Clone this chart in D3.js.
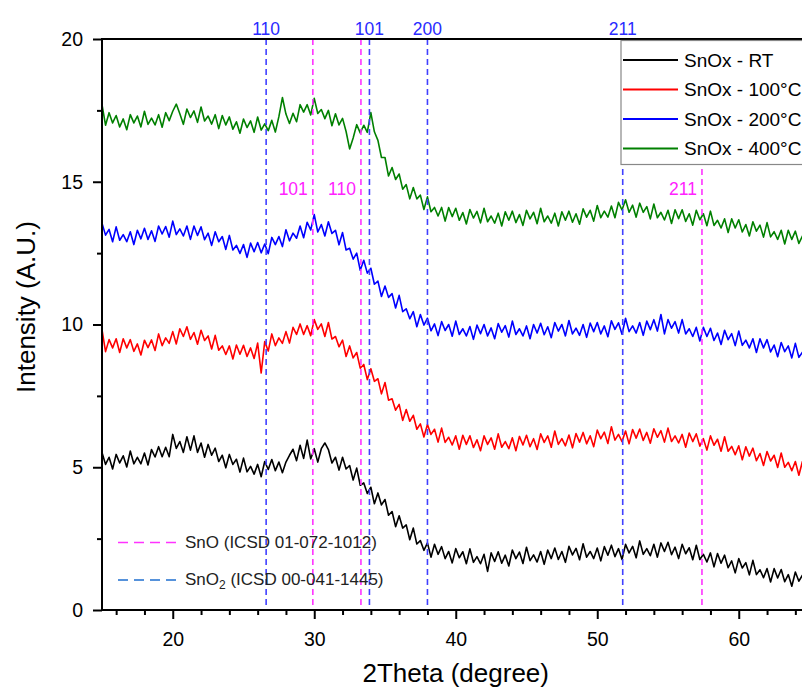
<!DOCTYPE html>
<html>
<head>
<meta charset="utf-8">
<script src="https://cdn.jsdelivr.net/npm/d3@7"></script>
<style>
  html, body { margin: 0; padding: 0; background: #fff; }
  svg { display: block; font-family: "Liberation Sans", Arial, sans-serif; }
</style>
</head>
<body>
<svg id="chart" width="802" height="689"></svg>
<script>
'use strict';

// scan grid (2theta, degrees)
var thetaStart = 15;
var thetaStep = 0.25;

// intensities, one value per grid step (15 ... 65)
var intensityRT = [
  5.52, 5.10, 5.35, 4.94, 5.45, 5.15, 5.40, 5.01,
  5.57, 5.12, 5.35, 5.12, 5.50, 5.08, 5.62, 5.36,
  5.72, 5.37, 5.70, 5.37, 6.15, 5.66, 5.90, 5.52,
  6.07, 5.60, 6.10, 5.52, 5.85, 5.35, 5.80, 5.42,
  5.67, 5.20, 5.42, 4.98, 5.45, 5.10, 5.28, 4.83,
  5.32, 4.84, 5.03, 4.76, 5.10, 4.67, 5.20, 4.92,
  5.27, 4.88, 5.18, 4.81, 5.18, 5.42, 5.63, 5.23,
  5.77, 5.31, 5.95, 5.29, 5.65, 5.18, 5.65, 5.85,
  5.62, 5.15, 5.35, 4.90, 5.35, 4.94, 5.06, 4.55,
  4.97, 4.37, 4.45, 4.08, 4.30, 3.72, 4.10, 3.68,
  3.87, 3.32, 3.45, 2.92, 3.30, 2.87, 2.98, 2.46,
  2.87, 2.31, 2.43, 2.09, 2.35, 1.85, 2.30, 1.95,
  2.22, 1.80, 2.05, 1.65, 2.15, 1.83, 2.04, 1.62,
  2.14, 1.67, 1.87, 1.62, 1.95, 1.35, 2.00, 1.70,
  2.04, 1.64, 1.92, 1.54, 2.10, 1.80, 2.03, 1.63,
  2.20, 1.73, 1.93, 1.68, 2.05, 1.60, 2.10, 1.80,
  2.17, 1.77, 2.05, 1.67, 2.23, 1.93, 2.16, 1.76,
  2.32, 1.85, 2.05, 1.80, 2.17, 1.72, 2.22, 1.92,
  2.27, 1.87, 2.15, 1.77, 2.30, 2.00, 2.23, 1.83,
  2.42, 1.95, 2.15, 1.90, 2.30, 1.85, 2.35, 2.05,
  2.37, 1.94, 2.20, 1.80, 2.30, 1.97, 2.18, 1.76,
  2.27, 1.77, 1.95, 1.68, 2.00, 1.51, 1.98, 1.64,
  1.92, 1.48, 1.72, 1.30, 1.80, 1.47, 1.66, 1.23,
  1.74, 1.24, 1.41, 1.13, 1.45, 0.98, 1.45, 1.12,
  1.42, 0.99, 1.24, 0.83, 1.33, 1.01, 1.22, 0.80,
  1.15
];

var intensity100 = [
  9.82, 9.05, 9.47, 9.18, 9.50, 9.02, 9.50, 9.18,
  9.47, 9.06, 9.32, 8.93, 9.45, 9.19, 9.46, 9.09,
  9.67, 9.26, 9.53, 9.34, 9.75, 9.32, 9.85, 9.58,
  9.92, 9.48, 9.72, 9.31, 9.80, 9.44, 9.60, 9.14,
  9.62, 9.10, 9.25, 8.95, 9.25, 8.79, 9.28, 8.96,
  9.27, 8.88, 9.18, 8.81, 9.35, 8.30, 9.40, 9.07,
  9.67, 9.26, 9.53, 9.34, 9.75, 9.35, 9.90, 9.65,
  10.02, 9.65, 9.96, 9.61, 10.17, 9.83, 10.02, 9.58,
  10.07, 9.49, 9.58, 9.22, 9.45, 8.88, 9.25, 8.83,
  9.02, 8.47, 8.60, 8.07, 8.45, 8.01, 8.10, 7.57,
  7.97, 7.35, 7.40, 7.00, 7.20, 6.64, 7.02, 6.61,
  6.82, 6.33, 6.52, 6.06, 6.50, 6.15, 6.33, 5.88,
  6.37, 5.87, 6.05, 5.78, 6.10, 5.63, 6.12, 5.80,
  6.10, 5.69, 5.96, 5.58, 6.10, 5.80, 6.03, 5.63,
  6.17, 5.70, 5.90, 5.65, 6.03, 5.58, 6.08, 5.78,
  6.12, 5.72, 6.00, 5.62, 6.17, 5.87, 6.10, 5.70,
  6.27, 5.80, 6.00, 5.75, 6.13, 5.68, 6.18, 5.88,
  6.22, 5.82, 6.10, 5.72, 6.30, 6.00, 6.23, 5.83,
  6.42, 5.95, 6.15, 5.90, 6.27, 5.82, 6.32, 6.02,
  6.34, 5.94, 6.22, 5.84, 6.35, 6.05, 6.28, 5.88,
  6.37, 5.90, 6.10, 5.85, 6.15, 5.70, 6.20, 5.90,
  6.17, 5.74, 6.00, 5.60, 6.10, 5.77, 5.98, 5.56,
  6.07, 5.56, 5.73, 5.44, 5.75, 5.26, 5.72, 5.39,
  5.67, 5.23, 5.48, 5.06, 5.55, 5.22, 5.42, 4.99,
  5.50, 5.00, 5.17, 4.88, 5.20, 4.72, 5.20, 4.88,
  5.15
];

var intensity200 = [
  13.55, 13.13, 13.33, 12.90, 13.42, 12.95, 13.15, 12.90,
  13.25, 12.80, 13.30, 13.00, 13.37, 12.98, 13.28, 12.91,
  13.45, 13.17, 13.43, 13.06, 13.62, 13.15, 13.35, 13.10,
  13.45, 12.98, 13.45, 13.12, 13.42, 12.97, 13.20, 12.77,
  13.25, 12.90, 13.08, 12.63, 13.12, 12.61, 12.77, 12.49,
  12.80, 12.35, 12.85, 12.55, 12.87, 12.51, 12.82, 12.48,
  13.05, 12.80, 13.08, 12.73, 13.32, 12.93, 13.20, 13.02,
  13.45, 13.04, 13.58, 13.31, 13.85, 13.24, 13.50, 13.10,
  13.60, 13.19, 13.30, 12.79, 13.22, 12.61, 12.67, 12.29,
  12.50, 11.90, 12.25, 11.80, 11.97, 11.41, 11.52, 10.98,
  11.35, 10.95, 11.08, 10.58, 11.02, 10.45, 10.55, 10.20,
  10.45, 9.92, 10.35, 9.98, 10.22, 9.78, 10.02, 9.61,
  10.10, 9.79, 10.00, 9.59, 10.12, 9.65, 9.85, 9.60,
  9.93, 9.48, 9.98, 9.68, 10.00, 9.60, 9.88, 9.50,
  10.03, 9.73, 9.96, 9.56, 10.12, 9.65, 9.85, 9.60,
  9.95, 9.50, 10.00, 9.70, 10.04, 9.64, 9.92, 9.54,
  10.07, 9.77, 10.00, 9.60, 10.14, 9.67, 9.87, 9.62,
  10.00, 9.55, 10.05, 9.75, 10.07, 9.67, 9.95, 9.57,
  10.13, 9.83, 10.06, 9.66, 10.22, 9.75, 9.95, 9.70,
  10.07, 9.62, 10.12, 9.82, 10.17, 9.77, 10.35, 9.67,
  10.17, 9.87, 10.10, 9.70, 10.17, 9.67, 9.85, 9.58,
  9.90, 9.42, 9.90, 9.58, 9.87, 9.44, 9.70, 9.30,
  9.80, 9.47, 9.68, 9.26, 9.77, 9.27, 9.45, 9.18,
  9.50, 9.02, 9.50, 9.18, 9.47, 9.04, 9.28, 8.87,
  9.37, 9.05, 9.25, 8.83, 9.34, 8.85, 9.03, 8.76,
  9.10
];

var intensity400 = [
  17.70, 16.98, 17.42, 17.06, 17.32, 16.92, 17.20, 16.82,
  17.35, 17.06, 17.30, 16.92, 17.47, 17.01, 17.23, 16.99,
  17.35, 16.91, 17.42, 17.14, 17.47, 17.72, 17.38, 17.01,
  17.55, 17.25, 17.48, 17.08, 17.62, 17.13, 17.30, 17.02,
  17.35, 16.86, 17.32, 16.99, 17.27, 16.84, 17.10, 16.70,
  17.20, 16.90, 17.13, 16.73, 17.27, 16.81, 17.03, 16.79,
  17.15, 16.74, 17.28, 17.95, 17.37, 17.04, 17.40, 17.10,
  17.70, 17.44, 17.70, 17.34, 17.92, 17.39, 17.53, 17.21,
  17.50, 16.96, 17.38, 16.99, 17.22, 16.76, 16.15, 16.53,
  17.00, 16.71, 16.98, 16.73, 17.42, 16.75, 16.45, 15.85,
  15.85, 15.20, 15.50, 15.08, 15.27, 14.74, 14.90, 14.40,
  14.80, 14.40, 14.53, 14.03, 14.47, 13.95, 14.10, 13.80,
  14.10, 13.62, 14.10, 13.78, 14.07, 13.65, 13.92, 13.52,
  14.03, 13.73, 13.96, 13.56, 14.07, 13.60, 13.80, 13.55,
  13.90, 13.45, 13.95, 13.65, 13.97, 13.57, 13.85, 13.47,
  14.00, 13.70, 13.93, 13.53, 14.07, 13.60, 13.80, 13.55,
  13.90, 13.45, 13.95, 13.65, 13.97, 13.58, 13.88, 13.51,
  14.05, 13.76, 14.00, 13.62, 14.17, 13.74, 13.97, 13.76,
  14.15, 13.74, 14.28, 14.01, 14.37, 13.93, 14.18, 13.76,
  14.25, 13.93, 14.13, 13.70, 14.22, 13.74, 13.93, 13.66,
  14.00, 13.54, 14.02, 13.71, 14.02, 13.61, 13.88, 13.48,
  14.00, 13.67, 13.88, 13.46, 13.97, 13.47, 13.65, 13.38,
  13.70, 13.22, 13.70, 13.38, 13.67, 13.24, 13.50, 13.10,
  13.60, 13.27, 13.48, 13.06, 13.57, 13.07, 13.25, 12.98,
  13.30, 12.82, 13.30, 12.98, 13.27, 12.84, 13.10, 12.70,
  13.10
];

var seriesNames = ['SnOx - RT', 'SnOx - 100\u00b0C', 'SnOx - 200\u00b0C', 'SnOx - 400\u00b0C'];
var seriesValues = [intensityRT, intensity100, intensity200, intensity400];
var seriesColors = ['#000000', '#ff0000', '#0000ff', '#008000'];

// reference peak positions
var snoPeaks = [29.9, 33.3, 57.4];
var snoLabels = ['101', '110', '211'];
var sno2Peaks = [26.6, 33.9, 38.0, 51.8];
var sno2Labels = ['110', '101', '200', '211'];

// axis ticks
var xTicks = [20, 30, 40, 50, 60];
var xMinorTicks = [16, 18, 22, 24, 26, 28, 32, 34, 36, 38, 42, 44, 46, 48, 52, 54, 56, 58, 62, 64];
var yTicks = [0, 5, 10, 15, 20];
var yMinorTicks = [2.5, 7.5, 12.5, 17.5];

(function() {
  var svg = d3.select('#chart');
  var plotLeft = 102, plotTop = 39, plotBottom = 610;
  var x = d3.scaleLinear().domain([15, 65]).range([plotLeft, plotLeft + 50 * 14.15]);
  var y = d3.scaleLinear().domain([0, 20]).range([plotBottom, plotTop]);

  // curves
  var line = d3.line()
    .x(function(d, i) { return x(thetaStart + i * thetaStep); })
    .y(function(d) { return y(d); });

  svg.append('g').selectAll('path')
    .data(seriesValues)
    .enter().append('path')
    .attr('d', line)
    .attr('fill', 'none')
    .attr('stroke', function(d, i) { return seriesColors[i]; })
    .attr('stroke-width', 1.6)
    .attr('stroke-linejoin', 'round');

  // reference lines
  var refs = svg.append('g');
  refs.selectAll('line.sno')
    .data(snoPeaks)
    .enter().append('line')
    .attr('x1', function(d) { return x(d); })
    .attr('x2', function(d) { return x(d); })
    .attr('y1', y(20)).attr('y2', y(0))
    .attr('stroke', '#ff33ff').attr('stroke-width', 1.6)
    .attr('stroke-dasharray', '6,4');
  refs.selectAll('line.sno2')
    .data(sno2Peaks)
    .enter().append('line')
    .attr('x1', function(d) { return x(d); })
    .attr('x2', function(d) { return x(d); })
    .attr('y1', y(20)).attr('y2', y(0))
    .attr('stroke', '#4040ff').attr('stroke-width', 1.6)
    .attr('stroke-dasharray', '6,4');

  refs.selectAll('text.sno')
    .data(snoPeaks)
    .enter().append('text')
    .attr('x', function(d) { return x(d) - 5; })
    .attr('y', 195)
    .attr('text-anchor', 'end')
    .attr('font-size', 17.5)
    .attr('fill', '#ff22ff')
    .text(function(d, i) { return snoLabels[i]; });
  refs.selectAll('text.sno2')
    .data(sno2Peaks)
    .enter().append('text')
    .attr('x', function(d) { return x(d); })
    .attr('y', 35)
    .attr('text-anchor', 'middle')
    .attr('font-size', 17.5)
    .attr('fill', '#2a2aff')
    .text(function(d, i) { return sno2Labels[i]; });

  // axes
  function styleAxis(g) {
    g.select('.domain').remove();
    g.selectAll('line').attr('stroke', '#000').attr('stroke-width', 2);
    g.selectAll('text').attr('font-size', 19.5).attr('fill', '#000')
      .attr('font-family', '"Liberation Sans", Arial, sans-serif');
  }

  svg.append('g')
    .attr('transform', 'translate(0,' + plotBottom + ')')
    .call(d3.axisBottom(x).tickValues(xTicks).tickSize(9).tickPadding(13).tickFormat(d3.format('d')))
    .call(styleAxis);
  svg.append('g')
    .attr('transform', 'translate(0,' + plotBottom + ')')
    .call(d3.axisBottom(x).tickValues(xMinorTicks).tickSize(5).tickFormat(''))
    .call(styleAxis);
  svg.append('g')
    .attr('transform', 'translate(' + plotLeft + ',0)')
    .call(d3.axisLeft(y).tickValues(yTicks).tickSize(9).tickPadding(10).tickFormat(d3.format('d')))
    .call(styleAxis);
  svg.append('g')
    .attr('transform', 'translate(' + plotLeft + ',0)')
    .call(d3.axisLeft(y).tickValues(yMinorTicks).tickSize(5).tickFormat(''))
    .call(styleAxis);

  // frame
  svg.append('path')
    .attr('d', 'M' + x(65) + ',' + y(20) + 'H' + plotLeft + 'V' + y(0) + 'H' + x(65))
    .attr('fill', 'none').attr('stroke', '#000').attr('stroke-width', 2);

  // axis titles
  svg.append('text')
    .attr('x', (plotLeft + x(65)) / 2).attr('y', 682)
    .attr('text-anchor', 'middle').attr('font-size', 26)
    .text('2Theta (degree)');
  svg.append('text')
    .attr('transform', 'translate(35,307) rotate(-90)')
    .attr('text-anchor', 'middle').attr('font-size', 26)
    .text('Intensity (A.U.)');

  // series legend
  var legend = svg.append('g');
  legend.append('rect')
    .attr('x', 621).attr('y', 40.5).attr('width', 200).attr('height', 124)
    .attr('fill', '#fff').attr('stroke', '#888').attr('stroke-width', 1.2);
  var items = legend.selectAll('g.item')
    .data(seriesNames)
    .enter().append('g')
    .attr('transform', function(d, i) { return 'translate(0,' + (60 + i * 29.5) + ')'; });
  items.append('line')
    .attr('x1', 623).attr('x2', 678)
    .attr('stroke', function(d, i) { return seriesColors[i]; })
    .attr('stroke-width', 2);
  items.append('text')
    .attr('x', 684).attr('dy', '0.35em')
    .attr('font-size', 19)
    .text(function(d) { return d; });

  // reference legend
  var refLegend = svg.append('g');
  refLegend.append('line')
    .attr('x1', 118).attr('x2', 178).attr('y1', 542.5).attr('y2', 542.5)
    .attr('stroke', '#ff33ff').attr('stroke-width', 1.6).attr('stroke-dasharray', '10,6');
  refLegend.append('text')
    .attr('x', 185).attr('y', 548).attr('font-size', 17).attr('fill', '#222')
    .text('SnO (ICSD 01-072-1012)');
  refLegend.append('line')
    .attr('x1', 118).attr('x2', 178).attr('y1', 580).attr('y2', 580)
    .attr('stroke', '#1f6fd0').attr('stroke-width', 1.6).attr('stroke-dasharray', '10,6');
  var t2 = refLegend.append('text')
    .attr('x', 185).attr('y', 585).attr('font-size', 17).attr('fill', '#222');
  t2.append('tspan').text('SnO');
  t2.append('tspan').attr('font-size', 12).attr('dy', 4).text('2');
  t2.append('tspan').attr('dy', -4).text(' (ICSD 00-041-1445)');
})();
</script>
</body>
</html>
